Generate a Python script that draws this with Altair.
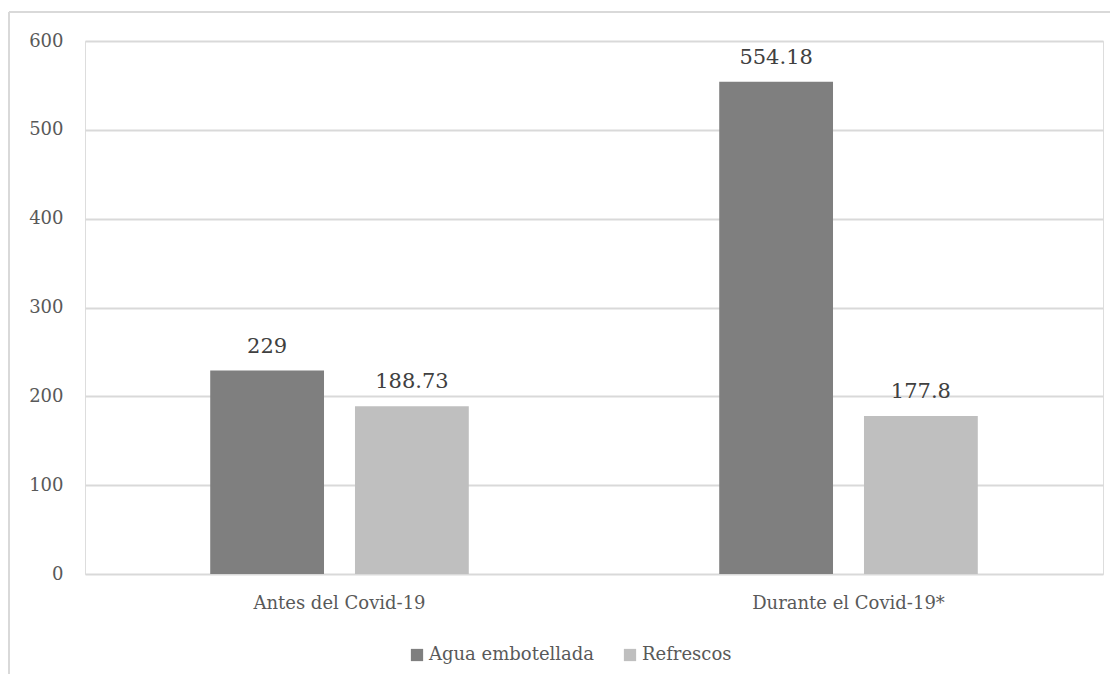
import altair as alt
import pandas as pd

categories = ["Antes del Covid-19", "Durante el Covid-19*"]
series = ["Agua embotellada", "Refrescos"]
agua = [229, 554.18]
refrescos = [188.73, 177.8]
labels_agua = ["229", "554.18"]
labels_refrescos = ["188.73", "177.8"]
colors = ["#7f7f7f", "#bfbfbf"]
y_ticks = [0, 100, 200, 300, 400, 500, 600]

rows = []
for i, c in enumerate(categories):
    rows.append({"cat": c, "serie": series[0], "val": agua[i], "lab": labels_agua[i]})
    rows.append({"cat": c, "serie": series[1], "val": refrescos[i], "lab": labels_refrescos[i]})
df = pd.DataFrame(rows)

FONT = "DejaVu Serif"

x = alt.X("cat:N", sort=categories, title=None,
          scale=alt.Scale(paddingInner=0.492, paddingOuter=0.246),
          axis=alt.Axis(labelAngle=0, domain=False, ticks=False, labelPadding=20,
                        labelLimit=0,
                        labelFontSize=18, labelColor="#595959", labelFont=FONT))
xoff = alt.XOffset("serie:N", sort=series, scale=alt.Scale(paddingInner=0.214, paddingOuter=0))
y = alt.Y("val:Q", title=None,
          scale=alt.Scale(domain=[0, 600], nice=False),
          axis=alt.Axis(values=y_ticks, domain=False, ticks=False, labelPadding=22,
                        gridColor="#d9d9d9", gridWidth=2,
                        labelFontSize=18, labelColor="#595959", labelFont=FONT))

base = alt.Chart(df)

bars = base.mark_bar().encode(
    x=x, xOffset=xoff, y=y,
    color=alt.Color("serie:N", sort=series,
                    scale=alt.Scale(domain=series, range=colors),
                    legend=alt.Legend(title=None, orient="none", direction="horizontal",
                                      legendX=323, legendY=605,
                                      symbolType="square", symbolSize=150,
                                      symbolStrokeWidth=0, labelOffset=3,
                                      columnPadding=26, labelLimit=0,
                                      labelFontSize=18, labelColor="#595959",
                                      labelFont=FONT)),
)

text = base.mark_text(baseline="alphabetic", dy=-18, fontSize=21, color="#404040",
                      font=FONT).encode(
    x=x, xOffset=xoff, y=y, text="lab:N",
)

frame = alt.Data(values=[{"a": 1}])
vline = alt.Chart(frame).mark_rule(color="#d9d9d9", strokeWidth=2).encode(
    x=alt.value(-76), y=alt.value(-29), y2=alt.value(700))
hline = alt.Chart(frame).mark_rule(color="#d9d9d9", strokeWidth=2).encode(
    x=alt.value(-76), x2=alt.value(1100), y=alt.value(-29))

chart = alt.layer(bars, text, vline, hline).properties(
    width=1018, height=533,
    autosize=alt.AutoSizeParams(type="none"),
    padding={"left": 77, "top": 33, "right": 7, "bottom": 100},
).configure_view(stroke=None).configure(font=FONT)

chart.save("out.html", embed_options={"renderer": "svg", "actions": False})
